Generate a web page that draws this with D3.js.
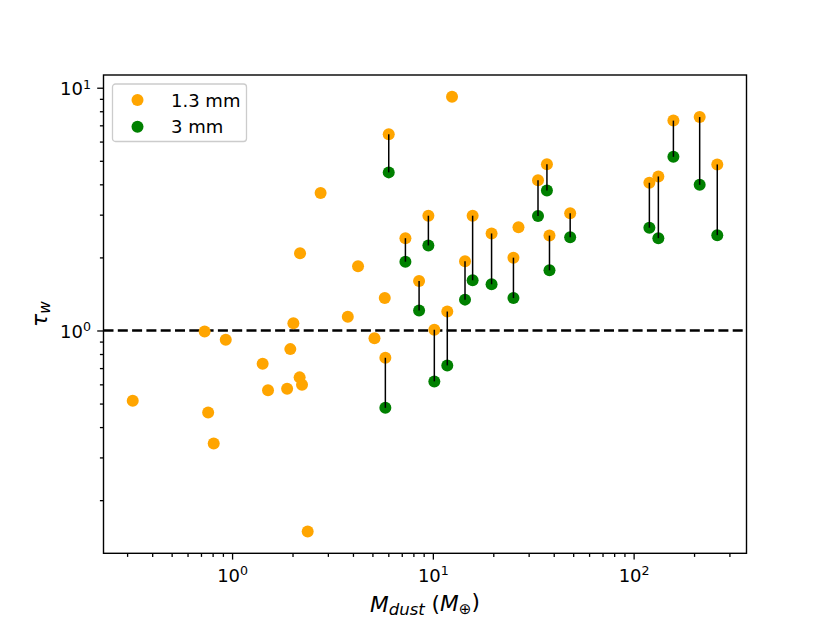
<!DOCTYPE html>
<html>
<head>
<meta charset="utf-8">
<script src="https://cdn.jsdelivr.net/npm/d3@7"></script>
<style>
  body { margin: 0; background: #fff; }
  text { font-family: "DejaVu Sans", sans-serif; }
</style>
</head>
<body>
<div id="chart"></div>
<script>
// dust mass (Earth masses) for each disk
var mass = [0.32, 0.73, 0.76, 0.81, 0.93, 1.42, 1.51, 1.88, 1.95, 2.02,
  2.17, 2.18, 2.23, 2.38, 2.76, 3.77, 4.24, 5.12, 5.76, 5.80,
  6.03, 7.30, 8.54, 9.50, 10.17, 11.8, 12.46, 14.46, 15.78, 19.61,
  25.2, 26.7, 33.4, 37.0, 38.1, 48.3, 119.8, 132.8, 157.8, 213.3, 261];

// optical depth at 1.3 mm
var tau13 = [0.513, 0.99, 0.459, 0.342, 0.916, 0.730, 0.567, 0.576, 0.838, 1.07,
  0.641, 2.08, 0.598, 0.1485, 3.68, 1.14, 1.84, 0.93, 1.36, 0.772,
  6.43, 2.40, 1.60, 2.97, 1.007, 1.197, 9.18, 1.93, 2.97, 2.51,
  1.995, 2.66, 4.16, 4.84, 2.46, 3.04, 4.06, 4.31, 7.32, 7.57, 4.83];

// optical depth at 3 mm (null = not observed)
var tau3 = [null, null, null, null, null, null, null, null, null, null,
  null, null, null, null, null, null, null, null, null, 0.480,
  4.48, 1.92, 1.21, 2.24, 0.617, 0.718, null, 1.34, 1.61, 1.55,
  1.36, null, 2.96, 3.77, 1.77, 2.42, 2.65, 2.40, 5.19, 3.98, 2.47];

var seriesNames = ["1.3 mm", "3 mm"];
var seriesColors = ["orange", "green"];

var W = 830, H = 623;
var margin = { left: 103.5, right: 83.5, top: 75, bottom: 69.7 };
var width = W - margin.left - margin.right;
var height = H - margin.top - margin.bottom;

var data = mass.map(function (m, i) {
  return { m: m, a: tau13[i], b: tau3[i] };
});
var pairs = data.filter(function (d) { return d.b != null; });

// log-space limits with 5% padding, like matplotlib autoscale
function padLog(ext) {
  var lo = Math.log10(ext[0]), hi = Math.log10(ext[1]), p = (hi - lo) * 0.05;
  return [Math.pow(10, lo - p), Math.pow(10, hi + p)];
}
var allTau = tau13.concat(tau3.filter(function (v) { return v != null; }));

var x = d3.scaleLog().domain(padLog(d3.extent(mass))).range([0, width]);
var y = d3.scaleLog().domain(padLog(d3.extent(allTau))).range([height, 0]);

var svg = d3.select("#chart").append("svg")
  .attr("width", W).attr("height", H);
var g = svg.append("g")
  .attr("transform", "translate(" + margin.left + "," + margin.top + ")");

function minorTicks(scale) {
  var dom = scale.domain(), out = [];
  for (var e = Math.floor(Math.log10(dom[0])); e <= Math.ceil(Math.log10(dom[1])); e++) {
    for (var k = 2; k <= 9; k++) {
      var v = k * Math.pow(10, e);
      if (v >= dom[0] && v <= dom[1]) out.push(v);
    }
  }
  return out;
}
function majorTicks(scale) {
  var dom = scale.domain(), out = [];
  for (var e = Math.ceil(Math.log10(dom[0])); e <= Math.floor(Math.log10(dom[1])); e++) {
    out.push(Math.pow(10, e));
  }
  return out;
}
function powLabel(sel) {
  sel.each(function (d) {
    var t = d3.select(this);
    t.text(null);
    t.append("tspan").text("10");
    t.append("tspan").attr("font-size", "12.6px").attr("dy", "-0.55em")
      .text(Math.round(Math.log10(d)));
  });
}

// minor ticks
g.append("g").attr("class", "x minor")
  .attr("transform", "translate(0," + height + ")")
  .call(d3.axisBottom(x).tickValues(minorTicks(x)).tickSize(3.6).tickFormat(""));
g.append("g").attr("class", "y minor")
  .call(d3.axisLeft(y).tickValues(minorTicks(y)).tickSize(3.6).tickFormat(""));

// major ticks
var xAx = g.append("g").attr("class", "x axis")
  .attr("transform", "translate(0," + height + ")")
  .call(d3.axisBottom(x).tickValues(majorTicks(x)).tickSize(6.3).tickPadding(6.3));
xAx.selectAll("text").attr("font-size", "18px").attr("y", 28.6).attr("dy", 0)
  .call(powLabel);

var yAx = g.append("g").attr("class", "y axis")
  .call(d3.axisLeft(y).tickValues(majorTicks(y)).tickSize(6.3).tickPadding(6.3));
yAx.selectAll("text").attr("font-size", "18px").attr("dy", "0.4em").call(powLabel);

svg.selectAll(".domain").remove();
svg.selectAll(".tick line").attr("stroke", "#000").attr("stroke-width", 1.3);
svg.selectAll(".tick text").attr("fill", "#000");

// tau = 1 reference line
g.append("line")
  .attr("x1", 0).attr("x2", width)
  .attr("y1", y(1)).attr("y2", y(1))
  .attr("stroke", "#000").attr("stroke-width", 2.7)
  .attr("stroke-dasharray", "10,4.3");

// points
g.selectAll("circle.a").data(data).enter().append("circle")
  .attr("class", "a")
  .attr("cx", function (d) { return x(d.m); })
  .attr("cy", function (d) { return y(d.a); })
  .attr("r", 6).attr("fill", seriesColors[0]);

g.selectAll("circle.b").data(pairs).enter().append("circle")
  .attr("class", "b")
  .attr("cx", function (d) { return x(d.m); })
  .attr("cy", function (d) { return y(d.b); })
  .attr("r", 6).attr("fill", seriesColors[1]);

// connectors between the two wavelengths
g.selectAll("line.pair").data(pairs).enter().append("line")
  .attr("class", "pair")
  .attr("x1", function (d) { return x(d.m); })
  .attr("x2", function (d) { return x(d.m); })
  .attr("y1", function (d) { return y(d.a); })
  .attr("y2", function (d) { return y(d.b); })
  .attr("stroke", "#000").attr("stroke-width", 1.5);

// frame
g.append("rect")
  .attr("width", width).attr("height", height)
  .attr("fill", "none").attr("stroke", "#000").attr("stroke-width", 1.4);

// legend
var leg = g.append("g").attr("transform", "translate(9,9)");
leg.append("rect")
  .attr("width", 134).attr("height", 57.5).attr("rx", 3)
  .attr("fill", "#fff").attr("fill-opacity", 0.8)
  .attr("stroke", "#ccc").attr("stroke-width", 1.3);
seriesNames.forEach(function (name, i) {
  var row = leg.append("g").attr("transform", "translate(0," + (16 + i * 26.7) + ")");
  row.append("circle").attr("cx", 25).attr("cy", 0).attr("r", 6)
    .attr("fill", seriesColors[i]);
  row.append("text").attr("x", 58.5).attr("y", 6.5)
    .attr("font-size", "18px").text(name);
});

// axis labels
var xl = g.append("text")
  .attr("x", width / 2).attr("y", height + 58.5)
  .attr("text-anchor", "middle").attr("font-size", "21.7px");
xl.append("tspan").attr("font-style", "italic").text("M");
xl.append("tspan").attr("font-style", "italic").attr("font-size", "16.5px")
  .attr("dy", "0.22em").text("dust");
xl.append("tspan").attr("dy", "-0.22em").text(" (");
xl.append("tspan").attr("font-style", "italic").text("M");
xl.append("tspan").attr("font-size", "15.2px").attr("dy", "0.22em").text("⊕");
xl.append("tspan").attr("dy", "-0.22em").text(")");

var yl = g.append("text")
  .attr("transform", "translate(" + (-57) + "," + (height / 2) + ") rotate(-90)")
  .attr("text-anchor", "middle").attr("font-size", "21.7px");
yl.append("tspan").attr("font-style", "italic").text("τ");
yl.append("tspan").attr("font-style", "italic").attr("font-size", "15.2px")
  .attr("dy", "0.22em").text("w");
</script>
</body>
</html>
